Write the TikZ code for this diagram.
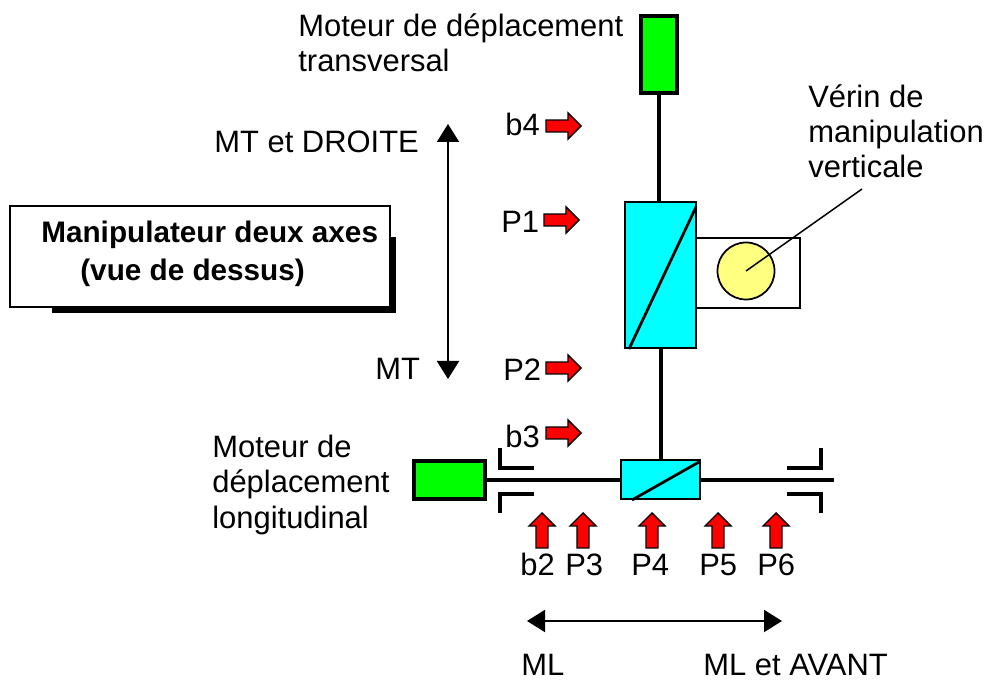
\documentclass[tikz,border=0pt]{standalone}
\usepackage{fontspec}
\setmainfont{Liberation Sans}
\usepackage{tikz}
\usetikzlibrary{calc,arrows.meta,shapes.arrows}
\definecolor{motorgreen}{RGB}{0,255,0}
\definecolor{cylcyan}{RGB}{0,255,255}
\definecolor{jackyellow}{RGB}{255,255,128}
\definecolor{sensorred}{RGB}{255,0,0}

\begin{document}
\begin{tikzpicture}[
    x=0.2mm, y=-0.2mm,
    motor/.style={draw, fill=motorgreen, line width=0.8mm, inner sep=0pt},
    cyl/.style={draw, fill=cylcyan, line width=0.4mm, inner sep=0pt},
    rod/.style={line width=0.8mm},
    stopper/.style={line width=0.8mm},
    slant/.style={line width=0.55mm},
    sensor/.style={single arrow, draw=black, fill=sensorred, line width=0.25mm, inner sep=1.05mm,
      minimum height=7mm, minimum width=5.2mm, single arrow head extend=1.4mm,
      single arrow head indent=0pt, anchor=tip},
    sensorup/.style={sensor, shape border rotate=90},
    lbl/.style={font=\fontsize{17.6}{20}\selectfont, anchor=base west, inner sep=0pt},
    lblblock/.style={font=\fontsize{17.6}{20}\selectfont, anchor=north west, inner sep=0pt, align=left},
    travel/.style={line width=0.4mm, {Triangle[width=4.4mm,length=3.6mm]}-{Triangle[width=4.4mm,length=3.6mm]}},
  ]
  \useasboundingbox (0,0) rectangle (990,681);

  \fill (52,237) rectangle (396,313);
  \node[draw, fill=white, line width=0.3mm, inner sep=0pt, minimum width=76mm, minimum height=20.2mm] (titlebox) at (200,256.5) {};
  \node[font=\fontsize{16.9}{20}\bfseries\selectfont, anchor=base west, inner sep=0pt] (title1) at (41,242.5) {Manipulateur deux axes};
  \node[font=\fontsize{16.9}{20}\bfseries\selectfont, anchor=base west, inner sep=0pt] (title2) at (80,281) {(vue de dessus)};

  \node[motor, minimum width=7.2mm, minimum height=15.4mm] (motorT) at (659,54.5) {};
  \node[draw, fill=white, line width=0.4mm, inner sep=0pt, minimum width=20.8mm, minimum height=14mm] (jackbox) at (748,273) {};
  \node[cyl, minimum width=14.2mm, minimum height=29.2mm] (cylV) at (660.5,275) {};
  \node[cyl, minimum width=15.8mm, minimum height=7.8mm] (cylH) at (660.5,479.5) {};
  \node[motor, minimum width=14.2mm, minimum height=7.6mm] (motorL) at (449.5,479.5) {};
  \node[circle, draw, fill=jackyellow, line width=0.35mm, inner sep=0pt, minimum size=11.4mm] (jack) at (746,271) {};

  \draw[rod] (motorT.south) -- (motorT.south |- cylV.north);
  \draw[rod] (cylV.south) -- (cylH.north);
  \coordinate (railend) at (834,479.5);
  \draw[rod] (motorL.east) -- (cylH.west);
  \draw[rod] (cylH.east) -- (railend);
  \draw[slant] ($(cylV.south west)+(5,0)$) -- ($(cylV.north east)+(-1,6)$);
  \draw[slant] ($(cylH.south west)+(12,0)$) -- ($(cylH.north east)+(-2,3)$);

  \draw[stopper] (500,448) -- (500,467.5) -- (534,467.5);
  \draw[stopper] (500,513) -- (500,493.5) -- (534,493.5);
  \draw[stopper] (821,448) -- (821,467.5) -- (787,467.5);
  \draw[stopper] (821,513) -- (821,493.5) -- (787,493.5);

  \coordinate (leaderend) at (862,189);
  \draw[line width=0.3mm] (jack.center) -- (leaderend);

  \coordinate (mttop) at (448,124);
  \coordinate (mtbot) at (448,379);
  \draw[travel] (mttop) -- (mtbot);
  \coordinate (mlleft) at (527,621);
  \coordinate (mlright) at (782,621);
  \draw[travel] (mlleft) -- (mlright);

  \node[sensor] (sb4) at (582,126) {};
  \node[sensor] (sP1) at (580,220) {};
  \node[sensor] (sP2) at (582,368) {};
  \node[sensor] (sb3) at (582,433) {};
  \node[sensorup] (sb2) at (542,512) {};
  \node[sensorup] (sP3) at (583,512) {};
  \node[sensorup] (sP4) at (652,512) {};
  \node[sensorup] (sP5) at (718,512) {};
  \node[sensorup] (sP6) at (776,512) {};

  \node[lblblock] (lmotorT) at (298,13) {Moteur de déplacement\\transversal};
  \node[lblblock] (ljack) at (808,84) {Vérin de\\manipulation\\verticale};
  \node[lblblock] (lmotorL) at (212,435) {Moteur de\\déplacement\\longitudinal};
  \node[lbl] (lmtd) at (214,153) {MT et DROITE};
  \node[lbl] (lmt) at (375,380) {MT};
  \node[lbl] (lb4) at (505,136) {b4};
  \node[lbl] (lP1) at (501,233) {P1};
  \node[lbl] (lP2) at (503,381) {P2};
  \node[lbl] (lb3) at (505,447) {b3};
  \node[lbl] (lb2) at (520,575) {b2};
  \node[lbl] (lP3) at (565,575) {P3};
  \node[lbl] (lP4) at (631,575) {P4};
  \node[lbl] (lP5) at (699,575) {P5};
  \node[lbl] (lP6) at (757,575) {P6};
  \node[lbl] (lml) at (521,675) {ML};
  \node[lbl] (lmla) at (703,675) {ML et AVANT};
\end{tikzpicture}
\end{document}
